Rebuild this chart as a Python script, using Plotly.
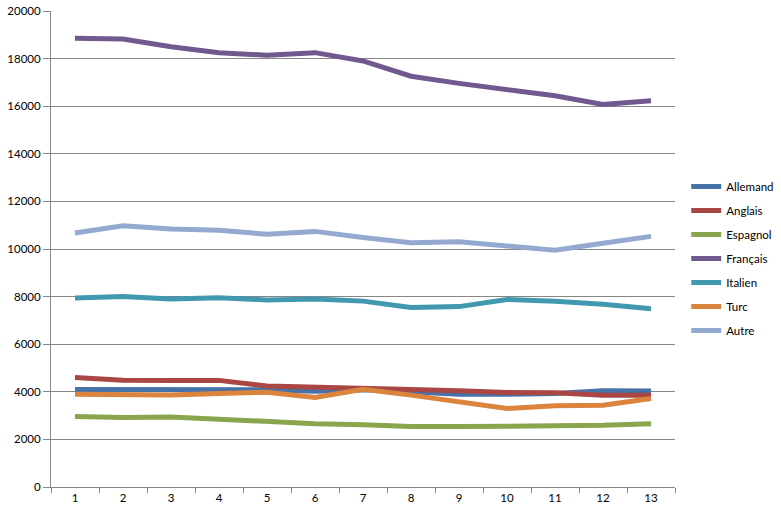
import plotly.graph_objects as go

categories = ["1", "2", "3", "4", "5", "6", "7", "8", "9", "10", "11", "12", "13"]

allemand = [4100, 4100, 4120, 4100, 4090, 4020, 4090, 4000, 3900, 3900, 3930, 4040, 4030]
anglais = [4600, 4490, 4480, 4480, 4240, 4210, 4180, 4100, 4040, 3970, 3960, 3860, 3860]
espagnol = [2960, 2920, 2940, 2830, 2720, 2660, 2620, 2540, 2540, 2540, 2580, 2590, 2660]
francais = [18850, 18820, 18500, 18250, 18140, 18250, 17900, 17260, 16960, 16720, 16440, 16070, 16230]
italien = [7940, 8000, 7900, 7950, 7860, 7900, 7810, 7540, 7580, 7880, 7800, 7680, 7490]
turc = [3900, 3870, 3870, 3930, 3980, 3760, 4110, 3860, 3580, 3300, 3410, 3440, 3720]
autre = [10670, 10980, 10840, 10790, 10620, 10740, 10480, 10260, 10300, 10130, 9950, 10240, 10530]

series_names = ["Allemand", "Anglais", "Espagnol", "Français", "Italien", "Turc", "Autre"]
series_values = [allemand, anglais, espagnol, francais, italien, turc, autre]
colors = ["#4572A7", "#AA4643", "#89A54E", "#71588F", "#4198AF", "#DB843D", "#93A9CF"]

y_ticks = list(range(0, 20001, 2000))

fig = go.Figure()
for name, vals, col in zip(series_names, series_values, colors):
    fig.add_trace(go.Scatter(
        x=categories, y=vals, name=name, mode="lines",
        line=dict(color=col, width=5),
        legendgroup=name,
    ))

font = dict(family="Lato, 'Liberation Sans', sans-serif", size=11.5, color="#000000")

fig.update_layout(
    width=781, height=514,
    margin=dict(l=51, r=106, t=11, b=27, autoexpand=False),
    paper_bgcolor="white", plot_bgcolor="white",
    font=font,
    showlegend=True,
    legend=dict(
        x=1.018, y=0.662, xanchor="left", yanchor="top",
        font=font, tracegroupgap=5,
        bgcolor="rgba(0,0,0,0)",
    ),
    xaxis=dict(
        type="category", tickson="boundaries",
        showline=True, linecolor="#868686", linewidth=1,
        ticks="outside", ticklen=5, tickcolor="#868686",
        showgrid=False, zeroline=False,
        range=[-0.5, 12.5], automargin=False,
        ticklabeloverflow="allow",
        tickfont=font,
    ),
    yaxis=dict(
        range=[0, 20000], tickvals=y_ticks,
        ticktext=[str(v) for v in y_ticks],
        showline=True, linecolor="#868686", linewidth=1,
        ticks="outside", ticklen=7, tickcolor="#868686",
        showgrid=True, gridcolor="#868686", gridwidth=1,
        zeroline=False, automargin=False,
        ticklabeloverflow="allow",
        tickfont=font,
    ),
)

fig.write_html(
    "out.html",
    config={"displayModeBar": False},
    post_script="document.body.style.margin='0';",
)
